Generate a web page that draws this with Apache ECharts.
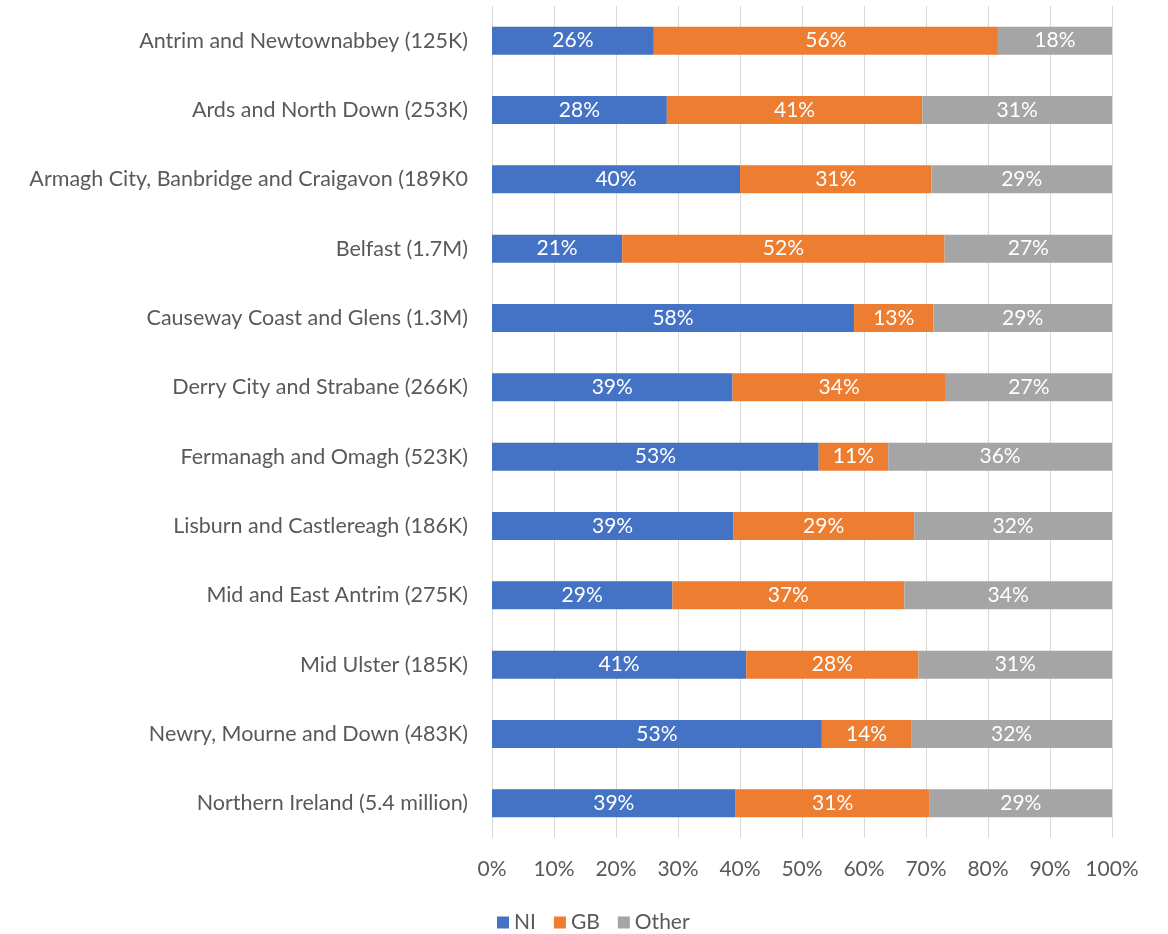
<!DOCTYPE html>
<html><head><meta charset="utf-8">
<script src="https://cdn.jsdelivr.net/npm/echarts@6/dist/echarts.min.js"></script>
<style>html,body{margin:0;padding:0;background:#fff}#c{width:1168px;height:934px}</style>
</head><body><div id="c"></div>
<script>
const categories = [
  "Antrim and Newtownabbey (125K)",
  "Ards and North Down (253K)",
  "Armagh City, Banbridge and Craigavon (189K0",
  "Belfast (1.7M)",
  "Causeway Coast and Glens (1.3M)",
  "Derry City and Strabane (266K)",
  "Fermanagh and Omagh (523K)",
  "Lisburn and Castlereagh (186K)",
  "Mid and East Antrim (275K)",
  "Mid Ulster (185K)",
  "Newry, Mourne and Down (483K)",
  "Northern Ireland (5.4 million)"
];
const niValues    = [26.1, 28.2, 40.0, 21.0, 58.4, 38.8, 52.7, 38.9, 29.1, 41.0, 53.2, 39.3];
const gbValues    = [55.5, 41.2, 30.9, 52.0, 12.8, 34.4, 11.2, 29.2, 37.4, 27.8, 14.4, 31.3];
const otherValues = [18.4, 30.6, 29.1, 27.0, 28.8, 26.8, 36.1, 31.9, 33.5, 31.2, 32.4, 29.4];
const xTicks = [0, 10, 20, 30, 40, 50, 60, 70, 80, 90, 100];

const FONT = 'Lato';
const FS = 21;
const chart = echarts.init(document.getElementById('c'));
function mk(name, data, color) {
  return {
    name, type: 'bar', stack: 'total', data,
    barWidth: 28,
    itemStyle: { color },
    label: { show: true, position: 'inside', color: '#fff', fontSize: FS, fontFamily: FONT,
             formatter: p => Math.round(p.value) + '%' },
    emphasis: { disabled: true }
  };
}
chart.setOption({
  animation: false,
  textStyle: { fontFamily: FONT },
  grid: { left: 492, right: 56, top: 6, bottom: 96, containLabel: false },
  legend: {
    top: 907, left: 492, itemWidth: 12, itemHeight: 12, itemGap: 18, icon: 'rect',
    textStyle: { fontSize: FS, color: '#595959', fontFamily: FONT },
    data: ['NI', 'GB', 'Other']
  },
  xAxis: {
    type: 'value', min: xTicks[0], max: xTicks[xTicks.length - 1], interval: 10,
    axisLine: { show: false }, axisTick: { show: false },
    splitLine: { lineStyle: { color: '#D9D9D9', width: 1 } },
    axisLabel: { formatter: v => v + '%', fontSize: FS, color: '#595959', margin: 21, fontFamily: FONT }
  },
  yAxis: {
    type: 'category', data: categories, inverse: true,
    axisLine: { show: false }, axisTick: { show: false },
    axisLabel: { fontSize: 21.5, color: '#595959', margin: 24, fontFamily: FONT }
  },
  series: [
    mk('NI', niValues, '#4472C4'),
    mk('GB', gbValues, '#ED7D31'),
    mk('Other', otherValues, '#A5A5A5')
  ]
});
</script></body></html>
